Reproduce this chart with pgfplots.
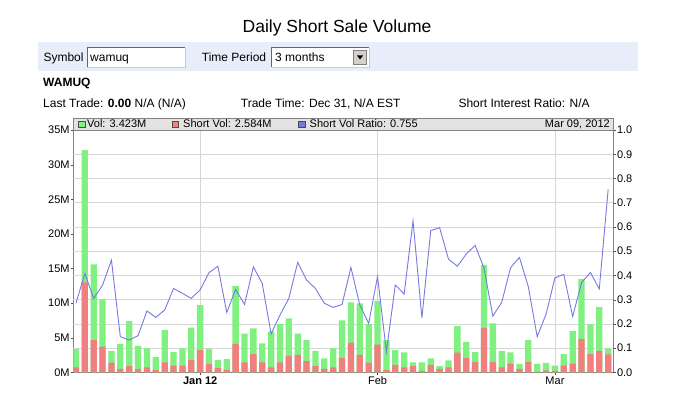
\documentclass[border=0pt]{standalone}
\usepackage{fontspec}
\setmainfont{Liberation Sans}
\usepackage{pgfplots}
\usepackage{pgfplotstable}
\pgfplotsset{compat=1.18}

\definecolor{volgreen}{RGB}{128,240,128}
\definecolor{shortred}{RGB}{240,128,128}
\definecolor{ratioblue}{RGB}{120,120,225}
\definecolor{bandblue}{RGB}{231,237,249}
\definecolor{gridgray}{RGB}{214,214,214}
\definecolor{axisgray}{RGB}{130,130,130}
\definecolor{btngray}{RGB}{212,208,200}

% idx = trading day, vol and short in millions
\pgfplotstableread{
idx vol short ratio
0 3.37 0.72 0.285
1 32.1 13.0 0.408
2 15.6 4.66 0.305
3 10.5 3.7 0.36
4 3.08 1.4 0.463
5 4.1 0.5 0.147
6 7.4 0.9 0.133
7 3.8 0.5 0.151
8 3.46 0.72 0.253
9 2.2 0.34 0.227
10 6.1 1.44 0.257
11 2.93 0.96 0.346
12 3.46 0.96 0.326
13 6.44 1.78 0.305
14 9.7 3.2 0.34
15 3.37 1.2 0.411
16 1.78 0.63 0.438
17 1.92 0.34 0.247
18 12.45 4.1 0.342
19 5.6 1.44 0.28
20 6.35 2.64 0.435
21 4.18 1.44 0.367
22 5.87 0.72 0.158
23 6.97 1.44 0.236
24 7.8 2.36 0.305
25 5.6 2.5 0.454
26 4.66 1.63 0.381
27 3.08 0.91 0.346
28 2.0 0.48 0.285
29 3.46 0.72 0.268
30 7.5 2.1 0.28
31 10.1 4.28 0.433
32 9.95 2.5 0.278
33 6.97 1.39 0.202
34 10.3 4.0 0.395
35 4.66 0.34 0.085
36 3.22 1.06 0.36
37 2.88 0.72 0.323
38 1.44 0.91 0.625
39 1.44 0.19 0.225
40 2.0 1.06 0.585
41 0.91 0.48 0.597
42 1.73 0.72 0.467
43 6.68 2.84 0.438
44 4.38 2.07 0.488
45 2.93 1.49 0.524
46 15.5 6.4 0.43
47 7.07 1.49 0.232
48 3.08 0.72 0.289
49 2.88 1.25 0.432
50 1.2 0.5 0.474
51 4.66 1.49 0.353
52 1.2 0.1 0.147
53 1.35 0.29 0.24
54 0.96 0.19 0.39
55 2.64 0.96 0.404
56 5.96 1.25 0.23
57 13.46 4.8 0.37
58 6.92 2.64 0.412
59 9.42 3.08 0.344
60 3.423 2.584 0.755
}\shortdata

\begin{document}
\begin{tikzpicture}
\begin{scope}[x=1pt,y=1pt]
\path[use as bounding box] (0,0) rectangle (675,408);
% title
\node[anchor=base,inner sep=0pt] at (337,375) {\fontsize{17.5}{20}\selectfont Daily Short Sale Volume};
% form band
\fill[bandblue] (38.3,337.3) rectangle (637.7,365.7);
\node[anchor=base west,inner sep=0pt] at (43.3,346) {\fontsize{12}{14}\selectfont Symbol};
\fill[white] (87.3,340.7) rectangle (185,360.3);
\draw[gray!40,line width=0.8pt] (87.3,340.7) -- (185,340.7) -- (185,360.3);
\draw[gray!80!black,line width=0.8pt] (87.3,340.7) -- (87.3,360.3) -- (185,360.3);
\node[anchor=base west,inner sep=0pt] at (90,346) {\fontsize{12}{14}\selectfont wamuq};
\node[anchor=base west,inner sep=0pt] at (201.7,346) {\fontsize{12}{14}\selectfont Time Period};
\fill[white] (271.7,340.7) rectangle (369,360.3);
\draw[gray!40,line width=0.8pt] (271.7,340.7) -- (369,340.7) -- (369,360.3);
\draw[gray!80!black,line width=0.8pt] (271.7,340.7) -- (271.7,360.3) -- (369,360.3);
\node[anchor=base west,inner sep=0pt] at (275,346) {\fontsize{12}{14}\selectfont 3 months};
\filldraw[fill=btngray,draw=gray] (353.5,343.5) rectangle (366.5,357.5);
\fill[black] (357,352.5) -- (363,352.5) -- (360,348.5) -- cycle;
% quote lines
\node[anchor=base west,inner sep=0pt] at (43,321) {\fontsize{12}{14}\selectfont\bfseries WAMUQ};
\node[anchor=base west,inner sep=0pt] at (43,301) {\fontsize{12}{14}\selectfont Last Trade: \textbf{0.00} N/A (N/A)};
\node[anchor=base west,inner sep=0pt] at (240.7,301) {\fontsize{12}{14}\selectfont Trade Time: Dec 31, N/A EST};
\node[anchor=base west,inner sep=0pt] at (458.3,301) {\fontsize{12}{14}\selectfont Short Interest Ratio: N/A};
\end{scope}

\begin{axis}[
  at={(73.3pt,35.7pt)}, anchor=south west,
  scale only axis, width=540pt, height=242.3pt,
  xmin=-0.3, xmax=60.58, ymin=0, ymax=35,
  axis x line*=bottom, axis y line*=left,
  axis line style={draw=axisgray,-},
  tick align=outside, major tick length=2.5pt,
  tick style={draw=black!70},
  ytick={0,5,...,35},
  yticklabels={0M,5M,10M,15M,20M,25M,30M,35M},
  xtick={14,34,54},
  xticklabels={\textbf{Jan 12},Feb,Mar},
  xmajorgrids,
  major grid style={draw=gridgray},
  extra y ticks={3.5,7,10.5,14,17.5,21,24.5,28,31.5},
  extra y tick labels={},
  extra y tick style={grid=major,major tick length=0pt},
  ticklabel style={font=\fontsize{11}{13}\selectfont},
  yticklabel style={inner sep=1pt},
  xticklabel style={inner sep=2pt},
]
\addplot[ybar, bar width=6.3pt, bar shift=0pt, fill=volgreen, draw=none]
  table[x=idx, y=vol] {\shortdata};
\addplot[ybar, bar width=6.3pt, bar shift=0pt, fill=shortred, draw=none]
  table[x=idx, y=short] {\shortdata};
\end{axis}

\begin{axis}[
  at={(73.3pt,35.7pt)}, anchor=south west,
  scale only axis, width=540pt, height=242.3pt,
  xmin=-0.3, xmax=60.58, ymin=0, ymax=1,
  axis x line=none, axis y line*=right,
  axis line style={draw=axisgray,-},
  tick align=outside, major tick length=2.5pt,
  tick style={draw=black!70},
  ytick={0,0.1,...,1.0},
  ticklabel style={font=\fontsize{11}{13}\selectfont},
  yticklabel style={inner sep=1pt,
    /pgf/number format/.cd, fixed, fixed zerofill, precision=1, assume math mode=true},
]
\addplot[ratioblue, line width=0.9pt, mark=none] table[x=idx, y=ratio] {\shortdata};
\end{axis}

\begin{scope}[x=1pt,y=1pt]
% legend band on top of the chart
\filldraw[fill=black!11,draw=axisgray] (73.3,278) rectangle (613.3,289.7);
\filldraw[fill=volgreen,draw=black!70] (78.5,280.5) rectangle (85,287);
\node[anchor=base west,inner sep=0pt] at (87,280.3) {\fontsize{11}{13}\selectfont Vol: 3.423M};
\filldraw[fill=shortred,draw=black!70] (172,280.5) rectangle (178.5,287);
\node[anchor=base west,inner sep=0pt] at (183,280.3) {\fontsize{11}{13}\selectfont Short Vol: 2.584M};
\filldraw[fill=ratioblue,draw=black!70] (298.5,280.5) rectangle (305,287);
\node[anchor=base west,inner sep=0pt] at (309.5,280.3) {\fontsize{11}{13}\selectfont Short Vol Ratio: 0.755};
\node[anchor=base east,inner sep=0pt] at (610,280.3) {\fontsize{11}{13}\selectfont Mar 09, 2012};
\end{scope}
\end{tikzpicture}
\end{document}
